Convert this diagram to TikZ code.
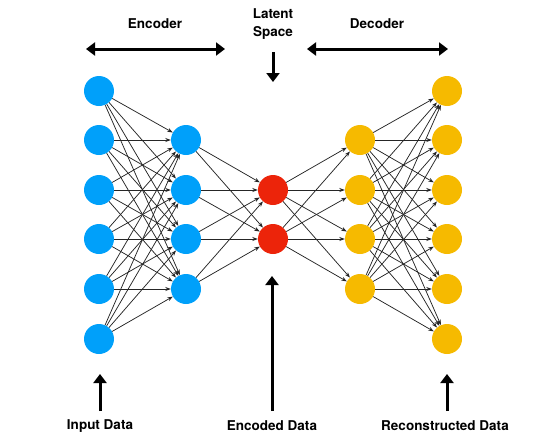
\documentclass[tikz,border=0pt]{standalone}
\usepackage{fontspec}
\setmainfont{TeX Gyre Heros}
\usetikzlibrary{arrows.meta, positioning}
\definecolor{encblue}{RGB}{0,160,250}
\definecolor{latred}{RGB}{236,36,10}
\definecolor{decyellow}{RGB}{246,186,0}

\begin{document}
\begin{tikzpicture}[x=1pt, y=-1pt,
neuron/.style={circle, minimum size=30pt, inner sep=0pt},
innode/.style={neuron, fill=encblue},
latnode/.style={neuron, fill=latred},
outnode/.style={neuron, fill=decyellow},
link/.style={-{Stealth[length=5.5pt, width=4pt]}, line width=0.75pt, draw=black!85},
bigarrow/.style={-{Triangle[length=9pt, width=13pt]}, line width=3pt},
caption/.style={font=\bfseries\fontsize{13.5}{18}\selectfont, align=center, inner sep=1pt}
]
\useasboundingbox (0,0) rectangle (541,434);
% Define the layers of the network
\foreach \i/\y in {1/91, 2/140, 3/190, 4/239, 5/289, 6/339} {
  \node[innode] (in\i) at (99,\y) {};
  \node[outnode] (out\i) at (447,\y) {};
}
\foreach \i/\y in {1/140, 2/190, 3/239, 4/289} {
  \node[innode] (enc\i) at (186,\y) {};
  \node[outnode] (dec\i) at (360,\y) {};
}
\node[latnode] (lat1) at (273,190) {};
\node[latnode] (lat2) at (273,239) {};
% Connect every neuron to the next layer
\foreach \a in {1,...,6} {
  \foreach \b in {1,...,4} {
    \draw[link] (in\a) -- (enc\b);
    \draw[link] (dec\b) -- (out\a);
  }
}
\foreach \a in {1,...,4} {
  \foreach \b in {1,2} {
    \draw[link] (enc\a) -- (lat\b);
    \draw[link] (lat\b) -- (dec\a);
  }
}
% Add the captions on top
\node[caption] (encoder-anno) at (155,24) {Encoder};
\node[caption] (latent-anno) at (273,24) {Latent\\Space};
\node[caption] (decoder-anno) at (377,24) {Decoder};
\coordinate (enc-left) at (86,49);
\coordinate (enc-right) at (225,49);
\coordinate (dec-left) at (307,49);
\coordinate (dec-right) at (448,49);
\coordinate (lat-top) at (273,52);
\coordinate (lat-tip) at (273,82);
\draw[bigarrow, {Triangle[length=9pt, width=13pt]}-{Triangle[length=9pt, width=13pt]}] (enc-left) -- (enc-right);
\draw[bigarrow, {Triangle[length=9pt, width=13pt]}-{Triangle[length=9pt, width=13pt]}] (dec-left) -- (dec-right);
\draw[bigarrow] (lat-top) -- (lat-tip);
% Add the captions below
\node[caption] (input-anno) at (100,426) {Input Data};
\node[caption] (code-anno) at (272,426) {Encoded Data};
\node[caption] (recon-anno) at (445,426) {Reconstructed Data};
\coordinate (input-tip) at (100,374);
\coordinate (code-tip) at (272,276);
\coordinate (recon-tip) at (447,374);
\draw[bigarrow] (input-anno.north |- 0,411) -- (input-tip);
\draw[bigarrow] (code-anno.north |- 0,411) -- (code-tip);
\draw[bigarrow] (recon-tip |- 0,411) -- (recon-tip);
\end{tikzpicture}
\end{document}
